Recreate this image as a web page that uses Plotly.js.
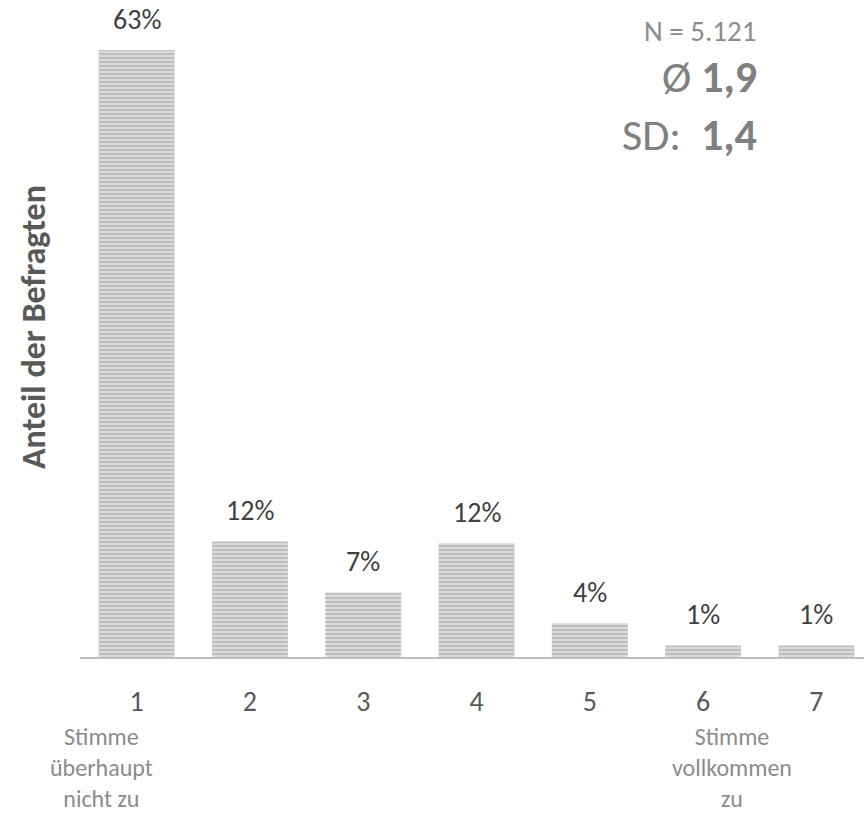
<!DOCTYPE html>
<html>
<head>
<meta charset="utf-8">
<script src="https://cdn.plot.ly/plotly-3.0.1.min.js"></script>
<style>html,body{margin:0;padding:0;background:#fff;}#chart{width:864px;height:816px;}</style>
</head>
<body>
<div id="chart"></div>
<script>
const categories = [1, 2, 3, 4, 5, 6, 7];
const tickLabels = ['1', '2', '3', '4', '5', '6', '7'];
const shares = [63, 12, 6.7, 11.8, 3.5, 1.2, 1.2];
const shareLabels = ['63%', '12%', '7%', '12%', '4%', '1%', '1%'];
const lowAnchorLabel = 'Stimme<br>überhaupt<br>nicht zu';
const highAnchorLabel = 'Stimme<br>vollkommen<br>zu';
const statN = 'N = 5.121';
const statMean = '1,9';
const statSD = '1,4';
const yTitle = 'Anteil der Befragten';

const FONT = 'Carlito, Calibri, Lato, sans-serif';

const annotations = [];
categories.forEach((c, i) => {
  annotations.push({
    x: c, y: shares[i], xref: 'x', yref: 'y',
    text: shareLabels[i], showarrow: false,
    yanchor: 'middle', yshift: 31,
    font: {family: FONT, size: 28, color: '#404040'}
  });
});
annotations.push(
  {xref: 'paper', yref: 'paper', x: (34 - 80) / 784, y: 1 - 327 / 657, textangle: -90,
   text: '<b>' + yTitle + '</b>', showarrow: false, xanchor: 'center', yanchor: 'middle',
   font: {family: FONT, size: 34, color: '#595959'}},
  {xref: 'x', yref: 'paper', x: 1, xshift: -35, y: 0, yshift: -64, yanchor: 'top', xanchor: 'center',
   text: lowAnchorLabel, showarrow: false, align: 'center', borderpad: 0,
   font: {family: FONT, size: 24, color: '#8c8c8c'}},
  {xref: 'x', yref: 'paper', x: 6, xshift: 29, y: 0, yshift: -64, yanchor: 'top', xanchor: 'center',
   text: highAnchorLabel, showarrow: false, align: 'center', borderpad: 0,
   font: {family: FONT, size: 24, color: '#8c8c8c'}},
  {xref: 'paper', yref: 'paper', x: (758 - 80) / 784, y: 1 - 31 / 657, xanchor: 'right', yanchor: 'middle',
   text: statN, showarrow: false, font: {family: FONT, size: 29, color: '#8c8c8c'}},
  {xref: 'paper', yref: 'paper', x: (759 - 80) / 784, y: 1 - 77 / 657, xanchor: 'right', yanchor: 'middle',
   text: 'Ø <b>' + statMean + '</b>', showarrow: false, font: {family: FONT, size: 44, color: '#808080'}},
  {xref: 'paper', yref: 'paper', x: (759 - 80) / 784, y: 1 - 135 / 657, xanchor: 'right', yanchor: 'middle',
   text: 'SD:\u00a0 <b>' + statSD + '</b>', showarrow: false, font: {family: FONT, size: 44, color: '#808080'}}
);

const trace = {
  type: 'bar',
  x: categories,
  y: shares,
  width: 0.67,
  marker: {
    color: '#d9d9d9',
    line: {width: 0},
    pattern: {shape: '-', fgcolor: '#a6a6a6', bgcolor: '#d9d9d9', size: 4, solidity: 0.5, fillmode: 'overlay'}
  },
  hoverinfo: 'skip'
};

const layout = {
  width: 864, height: 816,
  margin: {l: 80, r: 0, t: 0, b: 159},
  paper_bgcolor: '#ffffff', plot_bgcolor: '#ffffff',
  showlegend: false,
  font: {family: FONT},
  xaxis: {
    range: [0.5, 7.42], tickvals: categories, ticktext: tickLabels,
    showline: true, linecolor: '#bfbfbf', linewidth: 2, showgrid: false, zeroline: false,
    ticks: '', ticklabelstandoff: 18,
    tickfont: {family: FONT, size: 28, color: '#595959'}
  },
  yaxis: {
    range: [0, 68.2], visible: false, showgrid: false, zeroline: false
  },
  annotations: annotations
};

Plotly.newPlot('chart', [trace], layout, {displayModeBar: false, staticPlot: true});
</script>
</body>
</html>
